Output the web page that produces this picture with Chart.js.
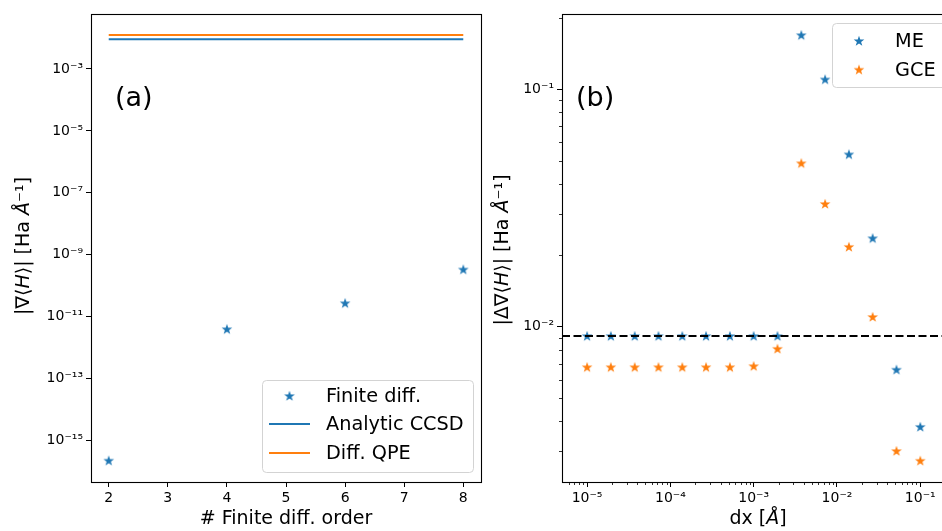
<!DOCTYPE html>
<html>
<head>
<meta charset="utf-8">
<script src="https://cdn.jsdelivr.net/npm/chart.js@4.4.0/dist/chart.umd.min.js"></script>
<style>
  html, body { margin: 0; padding: 0; background: #fff; overflow: hidden; width: 942px; height: 531px; }
  #left { position: absolute; left: 0; top: 0; }
  #right { position: absolute; left: 486px; top: 0; }
</style>
</head>
<body>
<canvas id="left" width="486" height="531"></canvas>
<canvas id="right" width="476" height="531"></canvas>
<script>
// ==============================
// DATA
// ==============================
// panel (a)
const orders = [2, 4, 6, 8];
const finiteDiff = [2.2e-16, 3.9e-12, 2.7e-11, 3.3e-10];
const ccsdGrad = [0.0091, 0.0091];
const qpeGrad = [0.0126, 0.0126];
const lineOrders = [2, 8];
const yTicksA = [1e-15, 1e-13, 1e-11, 1e-9, 1e-7, 1e-5, 1e-3];
const xTicksA = [2, 3, 4, 5, 6, 7, 8];

// panel (b)
const dx = [1.00e-5, 1.93e-5, 3.73e-5, 7.20e-5, 1.39e-4, 2.68e-4, 5.18e-4, 1.00e-3,
            1.93e-3, 3.73e-3, 7.20e-3, 1.39e-2, 2.68e-2, 5.18e-2, 1.00e-1];
const meErr = [0.00914, 0.00914, 0.00914, 0.00914, 0.00914, 0.00914, 0.00914, 0.00914,
               0.00914, 0.169, 0.110, 0.0532, 0.0236, 0.0066, 0.00379];
const gceErr = [0.00676, 0.00676, 0.00676, 0.00676, 0.00676, 0.00676, 0.00676, 0.00683,
                0.00808, 0.0488, 0.0329, 0.0217, 0.0110, 0.0030, 0.00273];
const refErr = [0.00914, 0.00914];
const xLimitsB = [5.0e-6, 0.254];
const yLimitsB = [0.002222, 0.2075];
const xTicksB = [1e-5, 1e-4, 1e-3, 1e-2, 1e-1];
const yTicksB = [1e-2, 1e-1];

const BLUE = '#1f77b4';
const ORANGE = '#ff7f0e';
const FONT = '"DejaVu Sans", sans-serif';

// ==============================
// HELPERS
// ==============================
const SUP = { '-': '\u207B', '0': '\u2070', '1': '\u00B9', '2': '\u00B2', '3': '\u00B3',
              '4': '\u2074', '5': '\u2075', '6': '\u2076', '7': '\u2077', '8': '\u2078', '9': '\u2079' };
function logLabel(v) {
  const e = Math.round(Math.log10(v));
  return '10' + String(e).split('').map(c => SUP[c]).join('');
}

// filled 5-point star like matplotlib '*'
function makeStar(color) {
  const c = document.createElement('canvas');
  c.width = 14; c.height = 14;
  const g = c.getContext('2d');
  g.beginPath();
  for (let i = 0; i < 10; i++) {
    const r = i % 2 ? 2.2 : 5.6;
    const a = -Math.PI / 2 + i * Math.PI / 5;
    const px = 7 + r * Math.cos(a), py = 7.3 + r * Math.sin(a);
    i ? g.lineTo(px, py) : g.moveTo(px, py);
  }
  g.closePath();
  g.fillStyle = color;
  g.fill();
  return c;
}
const starBlue = makeStar(BLUE);
const starOrange = makeStar(ORANGE);

function minorLogTicks(lo, hi) {
  const out = [];
  for (let e = Math.floor(Math.log10(lo)); e <= Math.ceil(Math.log10(hi)); e++) {
    for (let m = 2; m <= 9; m++) {
      const v = m * Math.pow(10, e);
      if (v >= lo && v <= hi) out.push(v);
    }
  }
  return out;
}

// text with mixed italic parts
function drawRich(ctx, parts, size, x, y, rot) {
  ctx.save();
  ctx.translate(x, y);
  if (rot) ctx.rotate(rot);
  ctx.fillStyle = '#000';
  ctx.textBaseline = 'middle';
  ctx.textAlign = 'left';
  let total = 0;
  parts.forEach(p => {
    ctx.font = (p.it ? 'italic ' : '') + size + 'px ' + FONT;
    total += ctx.measureText(p.t).width;
  });
  let cx = -total / 2;
  parts.forEach(p => {
    ctx.font = (p.it ? 'italic ' : '') + size + 'px ' + FONT;
    ctx.fillText(p.t, cx, 0);
    cx += ctx.measureText(p.t).width;
  });
  ctx.restore();
}

// ==============================
// FRAME / LEGEND / TITLES PLUGIN
// ==============================
const framePlugin = {
  id: 'frame',
  afterDraw(chart, args, opts) {
    const ctx = chart.ctx;
    const a = chart.chartArea;
    ctx.save();
    // minor ticks
    ctx.strokeStyle = '#000';
    ctx.lineWidth = 0.8;
    (opts.minorX || []).forEach(v => {
      const px = Math.round(chart.scales.x.getPixelForValue(v)) + 0.5;
      ctx.beginPath(); ctx.moveTo(px, a.bottom); ctx.lineTo(px, a.bottom + 3); ctx.stroke();
    });
    (opts.minorY || []).forEach(v => {
      const py = Math.round(chart.scales.y.getPixelForValue(v)) + 0.5;
      ctx.beginPath(); ctx.moveTo(a.left, py); ctx.lineTo(a.left - 3, py); ctx.stroke();
    });
    // box
    ctx.lineWidth = 1.1;
    ctx.strokeStyle = '#000';
    ctx.strokeRect(Math.round(a.left) + 0.5, Math.round(a.top) + 0.5,
                   Math.round(a.right - a.left), Math.round(a.bottom - a.top));
    // panel tag
    ctx.fillStyle = '#000';
    ctx.font = '27px ' + FONT;
    ctx.textBaseline = 'alphabetic';
    ctx.fillText(opts.tag.text, opts.tag.x, opts.tag.y);
    // axis titles
    drawRich(ctx, opts.yTitle.parts, 19, opts.yTitle.x, opts.yTitle.y, -Math.PI / 2);
    drawRich(ctx, opts.xTitle.parts, 19, (a.left + a.right) / 2, opts.xTitle.y, 0);
    // legend
    const L = opts.legend;
    ctx.beginPath();
    ctx.roundRect(L.x + 0.5, L.y + 0.5, L.w, L.h, 4);
    ctx.fillStyle = 'rgba(255,255,255,0.8)';
    ctx.fill();
    ctx.strokeStyle = '#d3d3d3';
    ctx.lineWidth = 1;
    ctx.stroke();
    ctx.font = '19.3px ' + FONT;
    ctx.textBaseline = 'middle';
    L.items.forEach((it, i) => {
      const ry = L.rows[i];
      if (it.kind === 'star') {
        const img = it.color === BLUE ? starBlue : starOrange;
        ctx.drawImage(img, (L.h0 + L.h1) / 2 - 7, ry - 7);
      } else {
        ctx.strokeStyle = it.color;
        ctx.lineWidth = 2;
        ctx.beginPath(); ctx.moveTo(L.h0, ry); ctx.lineTo(L.h1, ry); ctx.stroke();
      }
      ctx.fillStyle = '#000';
      ctx.fillText(it.label, L.tx, ry + 1);
    });
    ctx.restore();
  }
};

const tickFont = { family: FONT, size: 14 };
const tickGrid = { display: true, drawOnChartArea: false, drawTicks: true, tickLength: 5, color: '#000', lineWidth: 1 };

// ==============================
// PANEL (a)
// ==============================
new Chart(document.getElementById('left'), {
  type: 'scatter',
  data: {
    datasets: [
      {
        label: 'Finite diff.',
        data: orders.map((o, i) => ({ x: o, y: finiteDiff[i] })),
        pointStyle: starBlue,
        backgroundColor: BLUE
      },
      {
        label: 'Analytic CCSD',
        data: lineOrders.map((o, i) => ({ x: o, y: ccsdGrad[i] })),
        showLine: true, borderColor: BLUE, borderWidth: 2, pointRadius: 0
      },
      {
        label: 'Diff. QPE',
        data: lineOrders.map((o, i) => ({ x: o, y: qpeGrad[i] })),
        showLine: true, borderColor: ORANGE, borderWidth: 2, pointRadius: 0
      }
    ]
  },
  options: {
    responsive: false,
    animation: false,
    layout: { padding: { left: 0, top: 14, right: 3, bottom: 0 } },
    plugins: {
      legend: { display: false },
      tooltip: { enabled: false },
      frame: {
        tag: { text: '(a)', x: 115, y: 106 },
        yTitle: { x: 24, y: 246, parts: [{ t: '|\u2207\u27E8' }, { t: 'H', it: true }, { t: '\u27E9| [Ha ' }, { t: '\u00C5', it: true }, { t: '\u207B\u00B9]' }] },
        xTitle: { y: 519, parts: [{ t: '# Finite diff. order' }] },
        legend: {
          x: 262, y: 380, w: 211, h: 92, rows: [396, 424, 453], h0: 269, h1: 310, tx: 326,
          items: [
            { label: 'Finite diff.', kind: 'star', color: BLUE },
            { label: 'Analytic CCSD', kind: 'line', color: BLUE },
            { label: 'Diff. QPE', kind: 'line', color: ORANGE }
          ]
        }
      }
    },
    scales: {
      x: {
        type: 'linear', min: 1.7, max: 8.3,
        afterBuildTicks: s => { s.ticks = xTicksA.map(v => ({ value: v })); },
        afterFit: s => { s.height = 49; },
        ticks: { font: tickFont, color: '#000', padding: 3, maxRotation: 0 },
        grid: tickGrid,
        border: { display: false }
      },
      y: {
        type: 'logarithmic', min: 4.5e-17, max: 0.0598, bounds: 'data',
        afterBuildTicks: s => { s.ticks = yTicksA.map(v => ({ value: v })); },
        afterFit: s => { s.width = 91; },
        ticks: { font: tickFont, color: '#000', padding: 3, callback: v => logLabel(v) },
        grid: tickGrid,
        border: { display: false }
      }
    }
  },
  plugins: [framePlugin]
});

// ==============================
// PANEL (b)
// ==============================
new Chart(document.getElementById('right'), {
  type: 'scatter',
  data: {
    datasets: [
      {
        label: 'ref',
        data: xLimitsB.map((v, i) => ({ x: v, y: refErr[i] })),
        showLine: true, borderColor: '#000', borderWidth: 2, borderDash: [8, 3.5], pointRadius: 0,
        order: 0
      },
      {
        label: 'ME',
        data: dx.map((v, i) => ({ x: v, y: meErr[i] })),
        pointStyle: starBlue, backgroundColor: BLUE, order: 1
      },
      {
        label: 'GCE',
        data: dx.map((v, i) => ({ x: v, y: gceErr[i] })),
        pointStyle: starOrange, backgroundColor: ORANGE, order: 2
      }
    ]
  },
  options: {
    responsive: false,
    animation: false,
    layout: { padding: { left: 0, top: 14, right: 8, bottom: 0 } },
    plugins: {
      legend: { display: false },
      tooltip: { enabled: false },
      frame: {
        minorX: minorLogTicks(xLimitsB[0], xLimitsB[1]),
        minorY: minorLogTicks(yLimitsB[0], yLimitsB[1]),
        tag: { text: '(b)', x: 90, y: 106 },
        yTitle: { x: 17, y: 250, parts: [{ t: '|\u0394\u2207\u27E8' }, { t: 'H', it: true }, { t: '\u27E9| [Ha ' }, { t: '\u00C5', it: true }, { t: '\u207B\u00B9]' }] },
        xTitle: { y: 519, parts: [{ t: 'dx [' }, { t: '\u00C5', it: true }, { t: ']' }] },
        legend: {
          x: 346, y: 23, w: 116, h: 64, rows: [41, 69.7], h0: 353, h1: 393, tx: 409,
          items: [
            { label: 'ME', kind: 'star', color: BLUE },
            { label: 'GCE', kind: 'star', color: ORANGE }
          ]
        }
      }
    },
    scales: {
      x: {
        type: 'logarithmic', min: xLimitsB[0], max: xLimitsB[1], bounds: 'data',
        afterBuildTicks: s => { s.ticks = xTicksB.map(v => ({ value: v })); },
        afterFit: s => { s.height = 49; },
        ticks: { font: tickFont, color: '#000', padding: 3, maxRotation: 0, callback: v => logLabel(v) },
        grid: tickGrid,
        border: { display: false }
      },
      y: {
        type: 'logarithmic', min: yLimitsB[0], max: yLimitsB[1], bounds: 'data',
        afterBuildTicks: s => { s.ticks = yTicksB.map(v => ({ value: v })); },
        afterFit: s => { s.width = 76; },
        ticks: { font: tickFont, color: '#000', padding: 3, callback: v => logLabel(v) },
        grid: tickGrid,
        border: { display: false }
      }
    }
  },
  plugins: [framePlugin]
});
</script>
</body>
</html>
